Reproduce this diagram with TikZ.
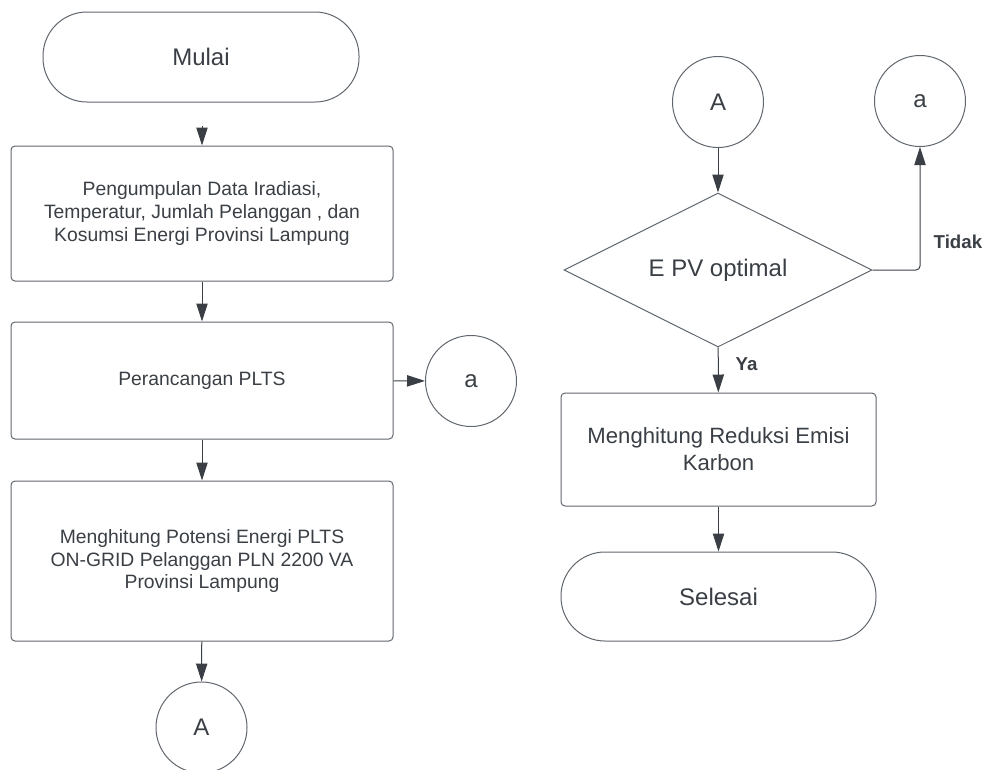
\documentclass[tikz,border=0pt]{standalone}
\usepackage{fontspec}
\setmainfont{Liberation Sans}
\usetikzlibrary{arrows.meta,shapes.geometric}
\definecolor{ink}{HTML}{3A3F45}
\definecolor{edge}{HTML}{60666D}

\begin{document}
\begin{tikzpicture}[x=.75pt,y=-.75pt,>={Triangle[length=13.5pt,width=8.5pt]},
  every node/.style={text=ink},
  terminal/.style={draw=edge,line width=.75pt,rounded corners=33pt,minimum width=237pt,minimum height=67.5pt,font=\fontsize{18}{21}\selectfont},
  procbox/.style={draw=edge,line width=.75pt,rounded corners=3pt,minimum width=286.5pt,align=center,font=\fontsize{14.5}{16.9}\selectfont},
  connector/.style={draw=edge,line width=.75pt,circle,inner sep=0pt,minimum size=68.25pt,font=\fontsize{18}{21}\selectfont},
  decision/.style={draw=edge,line width=.75pt,diamond,aspect=2,inner sep=0pt,minimum width=231pt,minimum height=115.5pt,font=\fontsize{18}{21}\selectfont},
  flow/.style={->,draw=ink,line width=.75pt},
  answer/.style={font=\fontsize{14}{16}\selectfont\bfseries}]
\useasboundingbox (0,0) rectangle (989,769);
\node[terminal] (mulai) at (201,57) {Mulai};
\node[procbox,minimum height=101.25pt] (collect) at (202,213.5) {Pengumpulan Data Iradiasi,\\Temperatur, Jumlah Pelanggan , dan\\Kosumsi Energi Provinsi Lampung};
\node[procbox,minimum height=87.75pt] (design) at (202,380.5) {Perancangan PLTS};
\node[procbox,minimum height=120pt] (potensi) at (202,561) {Menghitung Potensi Energi PLTS\\ON-GRID Pelanggan PLN 2200 VA\\Provinsi Lampung};
\node[connector] (A1) at (201.5,727.5) {A};
\node[connector] (a1) at (471,381) {a};
\node[connector] (A2) at (718,102) {A};
\node[connector] (a2) at (920,101) {a};
\node[decision] (optimal) at (718,270) {E PV optimal};
\node[procbox,minimum width=236.25pt,minimum height=84.75pt,font=\fontsize{16.6}{20.25}\selectfont] (reduksi) at (718.5,449.5) {Menghitung Reduksi Emisi\\Karbon};
\node[terminal,minimum width=236.25pt,minimum height=66.75pt] (selesai) at (718.5,596.5) {Selesai};
\coordinate (starttip) at (202,126);
\draw[flow] (starttip) -- (collect);
\draw[flow] (collect) -- (design);
\draw[flow] (design) -- (potensi);
\draw[flow] (potensi) -- (A1);
\draw[flow] (design) -- (a1);
\draw[flow] (A2) -- (optimal);
\draw[flow] (optimal) -- (reduksi);
\draw[flow] (reduksi) -- (selesai);
\draw[flow,rounded corners=3pt] (optimal.east) -| (a2);
\node[answer,anchor=west] at (929,242) {Tidak};
\node[answer,anchor=west] at (731,364) {Ya};
\end{tikzpicture}
\end{document}
